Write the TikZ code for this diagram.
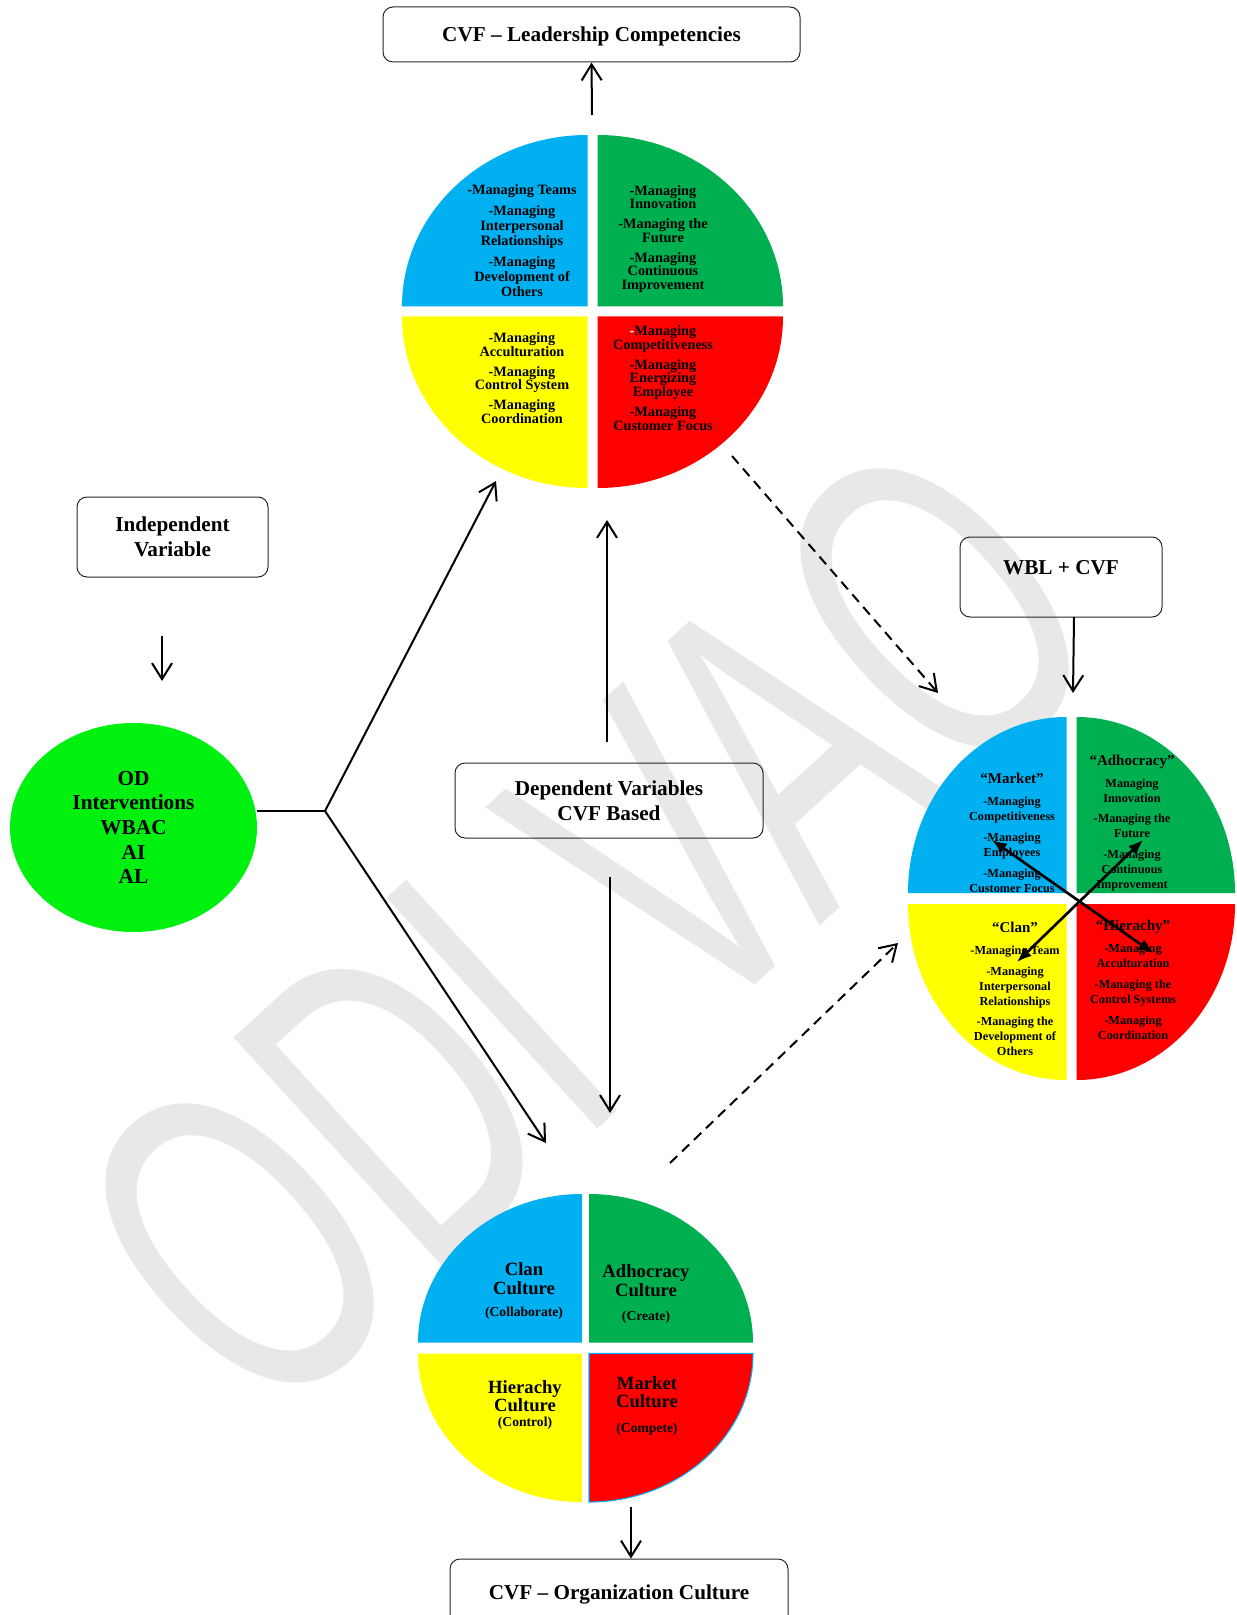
\documentclass[tikz,border=0pt]{standalone}
\usepackage{fontspec}
\setmainfont{Liberation Serif}
\newfontfamily\wmfont{Liberation Sans}
\usetikzlibrary{arrows.meta,shapes.geometric}

\definecolor{qblue}{HTML}{00B0F0}
\definecolor{qgreen}{HTML}{00B050}
\definecolor{qyellow}{HTML}{FFFF00}
\definecolor{qred}{HTML}{FF0000}
\definecolor{odgreen}{HTML}{00F010}
\definecolor{wmgray}{HTML}{E8E8E8}

% quarter of a pie: colour, cx, cy, rx, ry, start angle, dx, dy
\newcommand{\quarter}[8]{%
  \fill[#1] ({#2+#7},{#3+#8}) -- ++({#4*cos(#6)},{#5*sin(#6)}) arc[start angle=#6, delta angle=90, x radius=#4, y radius=#5] -- cycle;}

\tikzset{
  varbox/.style={draw=black!85, line width=0.75pt, rounded corners=7.5pt, align=center, inner sep=0pt, font=\bfseries\fontsize{15.9}{18.75}\selectfont},
  oneline/.style={text height=10.5pt, text depth=0pt},
  link/.style={line width=1.5pt, -{Straight Barb[length=12pt,width=15pt]}},
  dlink/.style={link, dash pattern=on 7.5pt off 5pt},
  twin/.style={line width=2pt, {Latex[length=11pt,width=9pt]}-{Latex[length=11pt,width=9pt]}},
  lcq/.style={align=center, inner sep=0pt, font=\bfseries\fontsize{10.7}{10.3}\selectfont},
  ocq/.style={align=center, inner sep=0pt, font=\bfseries\fontsize{14}{14}\selectfont},
  wbq/.style={align=center, inner sep=0pt, font=\bfseries\fontsize{9.2}{11.25}\selectfont}
}

\begin{document}
\begin{tikzpicture}[x=0.75pt,y=0.75pt,yscale=-1,xscale=1]
\useasboundingbox (0,0) rectangle (1237,1615);
\clip (0,0) rectangle (1237,1615);

% Watermark
\node[rotate=42.4, yscale=1.6, text=wmgray, inner sep=0pt, font=\wmfont\fontsize{213}{213}\selectfont] (wm) at (588,926) {ODI VAO};

%Shape: Pie [leadership competencies]
\quarter{qblue}{592.5}{311.5}{185.5}{171.5}{180}{-5}{-5}
\quarter{qgreen}{592.5}{311.5}{185.5}{171.5}{270}{5}{-5}
\quarter{qred}{592.5}{311.5}{185.5}{171.5}{0}{5}{5}
\quarter{qyellow}{592.5}{311.5}{185.5}{171.5}{90}{-5}{5}

%Shape: Pie [WBL + CVF]
\quarter{qblue}{1071.5}{898.5}{158.5}{176}{180}{-5}{-5.5}
\quarter{qgreen}{1071.5}{898.5}{158.5}{176}{270}{5}{-5.5}
\quarter{qred}{1071.5}{898.5}{158.5}{176}{0}{5}{5.5}
\quarter{qyellow}{1071.5}{898.5}{158.5}{176}{90}{-5}{5.5}

%Shape: Pie [organization culture]
\quarter{qblue}{585.5}{1348}{164}{148.5}{180}{-3.5}{-5.5}
\quarter{qgreen}{585.5}{1348}{164}{148.5}{270}{3.5}{-5.5}
\quarter{qyellow}{585.5}{1348}{164}{148.5}{90}{-3.5}{5.5}
\quarter{qred}{585.5}{1348}{164}{148.5}{0}{3.5}{5.5}
\draw[qblue, line width=0.8pt] (589,1353.5) -- ++(164,0) arc[start angle=0, delta angle=90, x radius=164, y radius=148.5] -- cycle;

% Boxes
\node[varbox, oneline, minimum width=312.75pt, minimum height=41.25pt] (lcbox) at (591.5,34.5) {CVF -- Leadership Competencies};
\node[varbox, minimum width=143.25pt, minimum height=60pt] (ivbox) at (172.5,537) {Independent\\Variable};
\node[varbox, minimum width=231pt, minimum height=56.25pt] (dvbox) at (609,800.5) {Dependent Variables\\CVF Based};
\node[varbox, minimum width=151.5pt, minimum height=60pt] (wbbox) at (1061,577) {};
\node[varbox, oneline, minimum width=253.5pt, minimum height=49.5pt] (ocbox) at (619,1592) {CVF -- Organization Culture};
% Text Node
\node[inner sep=0pt, font=\bfseries\fontsize{15.9}{18.75}\selectfont] (wbtxt) at (1061,568) {WBL + CVF};

%Shape: Ellipse
\node[ellipse, fill=odgreen, minimum width=185.25pt, minimum height=156.75pt, inner sep=0pt, align=center, font=\bfseries\fontsize{16}{18.5}\selectfont] (od) at (133.5,827.5) {OD\\Interventions\\WBAC\\AI\\AL};

% Text Node [leadership competencies]
\node[lcq, font=\bfseries\fontsize{10.7}{11.25}\selectfont] (lcclan) at (522,240.5) {-Managing Teams\\[4.5pt]-Managing\\Interpersonal\\Relationships\\[4.5pt]-Managing\\Development of\\Others};
\node[lcq] (lcadh) at (663,239) {-Managing\\Innovation\\[4.5pt]-Managing the\\Future\\[4.5pt]-Managing\\Continuous\\Improvement};
\node[lcq] (lchier) at (522,378) {-Managing\\Acculturation\\[4.5pt]-Managing\\Control System\\[4.5pt]-Managing\\Coordination};
\node[lcq] (lcmkt) at (663,378) {{\color{white}-}Managing\\Competitiveness\\[4.5pt]-Managing\\Energizing\\Employee\\[4.5pt]-Managing\\Customer Focus};

% Text Node [WBL + CVF]
\node[wbq] (wbmkt) at (1012,833) {{\fontsize{11.25}{12}\selectfont “Market”}\\[5.25pt]-Managing\\Competitiveness\\[4.5pt]-Managing\\Employees\\[4.5pt]-Managing\\Customer Focus};
\node[wbq] (wbadh) at (1132,823) {{\fontsize{11.25}{12}\selectfont “Adhocracy”}\\[5.25pt]Managing\\Innovation\\[4pt]-Managing the\\Future\\[4pt]-Managing\\Continuous\\Improvement};
\node[wbq] (wbclan) at (1015,989) {{\fontsize{11.25}{12}\selectfont “Clan”}\\[5.25pt]-Managing Team\\[4pt]-Managing\\Interpersonal\\Relationships\\[4pt]-Managing the\\Development of\\Others};
\node[wbq] (wbhier) at (1133,980) {{\fontsize{11.25}{12}\selectfont “Hierachy”}\\[5.25pt]-Managing\\Acculturation\\[4.5pt]-Managing the\\Control Systems\\[4.5pt]-Managing\\Coordination};

% Text Node [organization culture]
\node[ocq] (occlan) at (524,1291) {Clan\\Culture\\[2.7pt]{\bfseries\fontsize{10.2}{12}\selectfont (Collaborate)}};
\node[ocq] (ocadh) at (646,1294) {Adhocracy\\Culture\\[4pt]{\bfseries\fontsize{10.2}{12}\selectfont (Create)}};
\node[ocq] (ochier) at (525,1405) {Hierachy\\Culture\\[-2.8pt]{\bfseries\fontsize{10.2}{12}\selectfont (Control)}};
\node[ocq] (ocmkt) at (647,1406) {Market\\Culture\\[4.7pt]{\bfseries\fontsize{10.2}{12}\selectfont (Compete)}};

% Arrow ends
\coordinate (lcup) at (592,115);
\coordinate (ivtail) at (162,636);
\coordinate (ivhead) at (162,681);
\coordinate (fork) at (325,811);
\coordinate (lcin) at (496,481);
\coordinate (ocin) at (546,1143);
\coordinate (dvup) at (607,742);
\coordinate (lcbot) at (607,520);
\coordinate (dvdown) at (610,877);
\coordinate (octop) at (610,1113);
\coordinate (lcout) at (732,456);
\coordinate (wbin) at (938,693);
\coordinate (ocout) at (670,1163);
\coordinate (wbside) at (898,943);
\coordinate (wbout) at (1074,617);
\coordinate (wbtop) at (1073,693);
\coordinate (ocdown) at (631,1507);
\coordinate (mk1) at (992,840);
\coordinate (mk2) at (1153,953);
\coordinate (ad1) at (1143,840);
\coordinate (ad2) at (1017,962);

% Connectors
\draw[link] (lcup) -- (lcbox.south);
\draw[link] (ivtail) -- (ivhead);
\draw[line width=1.5pt] (od.east |- fork) -- (fork);
\draw[link] (fork) -- (lcin);
\draw[link] (fork) -- (ocin);
\draw[link] (dvup) -- (lcbot);
\draw[link] (dvdown) -- (octop);
\draw[dlink] (lcout) -- (wbin);
\draw[dlink] (ocout) -- (wbside);
\draw[link] (wbout) -- (wbtop);
\draw[link] (ocdown) -- (ocbox.north -| ocdown);
\draw[twin] (mk1) -- (mk2);
\draw[twin] (ad1) -- (ad2);

\end{tikzpicture}
\end{document}
